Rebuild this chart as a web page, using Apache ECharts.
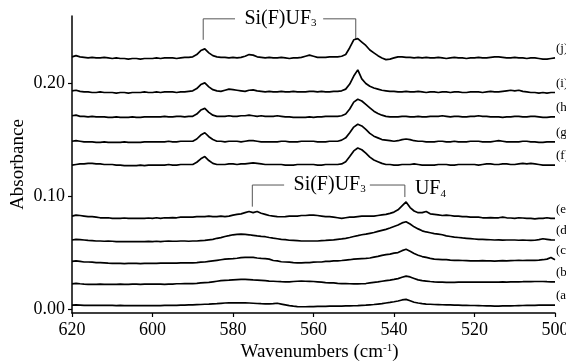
<!DOCTYPE html>
<html>
<head>
<meta charset="utf-8">
<script src="https://cdn.jsdelivr.net/npm/echarts@6/dist/echarts.min.js"></script>
<style>
  html, body { margin: 0; padding: 0; background: #ffffff; }
  #chart { width: 566px; height: 361px; }
</style>
</head>
<body>
<div id="chart"></div>
<script>
// Wavenumber sampling of the spectra (cm-1), 1 cm-1 steps from 620 down to 500
const wavenumbers = [
  620, 619, 618, 617, 616, 615, 614, 613, 612, 611,
  610, 609, 608, 607, 606, 605, 604, 603, 602, 601,
  600, 599, 598, 597, 596, 595, 594, 593, 592, 591,
  590, 589, 588, 587, 586, 585, 584, 583, 582, 581,
  580, 579, 578, 577, 576, 575, 574, 573, 572, 571,
  570, 569, 568, 567, 566, 565, 564, 563, 562, 561,
  560, 559, 558, 557, 556, 555, 554, 553, 552, 551,
  550, 549, 548, 547, 546, 545, 544, 543, 542, 541,
  540, 539, 538, 537, 536, 535, 534, 533, 532, 531,
  530, 529, 528, 527, 526, 525, 524, 523, 522, 521,
  520, 519, 518, 517, 516, 515, 514, 513, 512, 511,
  510, 509, 508, 507, 506, 505, 504, 503, 502, 501,
  500
];

// Stacked absorbance traces, in milli-absorbance units (same order as wavenumbers)
const traceA = [
  4, 4.2, 4, 3.8, 3.7, 3.8, 3.7, 3.7, 3.7, 3.7,
  3.7, 3.5, 3.7, 3.5, 3.5, 3.5, 3.6, 3.5, 3.5, 3.6,
  3.5, 3.6, 3.5, 3.7, 3.8, 3.8, 3.8, 4, 4, 4.1,
  4.2, 4.4, 4.5, 4.7, 4.8, 5, 5.2, 5.5, 5.8, 5.9,
  6, 6, 6, 5.9, 5.8, 5.6, 5.4, 5.2, 5.1, 5,
  5.2, 5.6, 4.9, 4.2, 3.5, 3, 2.7, 2.5, 2.5, 2.6,
  2.7, 2.8, 2.8, 2.9, 3, 3, 3.1, 3.1, 3.2, 3.3,
  3.4, 3.5, 3.7, 3.9, 4.2, 4.5, 4.9, 5.3, 5.8, 6.3,
  6.9, 7.6, 8.5, 9, 7.8, 6.5, 5.8, 5.3, 4.9, 4.7,
  4.5, 4.4, 4.3, 4.2, 4.1, 4, 3.9, 3.8, 3.7, 3.6,
  3.6, 3.5, 3.4, 3.3, 3.2, 3.1, 3.1, 3.2, 3.3, 3.3,
  3.4, 3.5, 3.6, 3.7, 3.8, 3.8, 3.9, 4, 4, 4,
  4
];
const traceB = [
  22.7, 23.2, 22.8, 22.5, 22.3, 22.3, 22.3, 22.5, 22.3, 22.3,
  22.3, 22.3, 22.5, 22.3, 22.3, 22.5, 22.5, 22.3, 22.5, 22.5,
  22.5, 22.5, 22.5, 22.3, 22.5, 22.5, 22.8, 22.8, 23, 23,
  23, 23.2, 23.5, 23.8, 24, 24.5, 25, 25.5, 25.8, 26,
  26.3, 26.5, 26.6, 26.7, 26.5, 26.2, 26, 25.8, 25.5, 25.2,
  25, 24.8, 24.6, 24.5, 24.5, 24.8, 25, 25.2, 25, 24.9,
  24.8, 24.5, 24.2, 23.8, 23.6, 23.5, 23.2, 23, 23, 22.8,
  22.7, 22.7, 22.8, 23, 23.5, 24, 24.4, 25, 25.5, 26,
  26.6, 27.3, 28.5, 29.5, 28.8, 27.5, 26.2, 25.6, 25.2, 24.8,
  24.5, 24.3, 24.2, 24, 24, 24, 24.2, 24.3, 24.3, 24.3,
  24.3, 24.2, 24.3, 24.2, 24.2, 24.2, 24.3, 24.5, 24.3, 24.5,
  24.5, 24.5, 24.6, 24.8, 24.6, 24.8, 24.8, 24.8, 24.6, 24.5,
  24.5
];
const traceC = [
  42.5, 43, 42.5, 42, 42, 41.8, 41.5, 41.5, 41.3, 41,
  40.8, 40.8, 40.8, 40.5, 40.8, 40.8, 40.8, 40.5, 40.8, 40.8,
  40.8, 40.8, 41, 41, 41, 41, 41, 41.3, 41.3, 41.3,
  41.3, 41.5, 41.8, 42, 42.5, 43, 43.5, 44, 44.5, 44.8,
  45, 45.3, 45.8, 46, 46.1, 46, 45.5, 45.2, 45, 44.5,
  43.3, 43, 42.2, 42, 41.8, 41.5, 41.3, 41.3, 41.5, 41.5,
  41.8, 42, 42, 42.5, 42.5, 43, 43, 43.3, 43.7, 44,
  44.5, 44.8, 45, 45.2, 45.5, 46.3, 47, 47.8, 48.5, 49,
  49.8, 50.3, 52, 53.2, 51.5, 49.5, 48, 46.8, 46, 45.2,
  44.5, 44.3, 44, 44, 43.7, 43.5, 43.5, 43.3, 43.2, 43,
  43, 43, 43.2, 43, 43, 42.8, 43, 43.2, 43, 43.2,
  43.3, 43.5, 43.3, 43.5, 43.5, 43.5, 43.7, 44, 44.5, 46,
  44
];
const traceD = [
  61.4, 62, 61.8, 61.4, 61, 60.8, 60.5, 60.5, 60.3, 60.5,
  60.3, 60, 60, 60, 60, 59.9, 60, 60, 60, 60.2,
  60, 60.3, 60, 60.3, 60.5, 60.3, 60.3, 60.5, 60.5, 60.3,
  60.5, 60.5, 60.8, 61, 61.5, 62, 62.9, 63.5, 64.5, 65.2,
  66, 66.3, 66.5, 66.3, 66, 65.5, 65, 64.6, 64.3, 63.6,
  63, 62.5, 62, 61.7, 61.2, 61, 60.8, 60.5, 60.5, 60.5,
  60.5, 60.5, 60.8, 61, 61.3, 61.5, 62, 62.4, 62.9, 63.6,
  64.5, 65.2, 66, 66.6, 67.3, 68, 69, 69.9, 70.8, 72,
  73.3, 74.6, 76.5, 77.5, 75.5, 73, 71.2, 69.5, 68.5, 67.8,
  67, 66.5, 66, 65, 64.5, 64, 63.6, 63.2, 62.9, 62.6,
  62.3, 62, 62, 61.8, 61.6, 61.4, 61.5, 61.3, 61.4, 61.4,
  61.4, 61.2, 61.4, 61.2, 61, 61.2, 61.8, 62.5, 62, 61.5,
  61.4
];
const traceE = [
  82.5, 83.4, 83, 82.5, 82, 82, 81.5, 81, 81, 81,
  80.5, 80.5, 80.5, 80.8, 80.5, 80.5, 80.5, 80.5, 80.5, 80.8,
  80.5, 81, 80.5, 81, 81, 81.2, 81, 81.5, 81.5, 81.5,
  81.5, 82, 82, 82, 82.5, 82, 82, 82.5, 82, 82.5,
  83.4, 84, 84.5, 85.5, 86.5, 85.5, 86.5, 85, 84, 83,
  82.5, 82, 81.9, 82, 82.5, 82.5, 82.5, 83, 83, 83.4,
  83.4, 83, 82.5, 82, 82, 81.5, 81, 80.5, 81, 81.5,
  81.5, 82, 82.5, 82.5, 82.5, 82.5, 83, 83.5, 84, 84.9,
  86, 88, 91.5, 95, 90, 87, 85.5, 85.5, 86.5, 84.5,
  84, 83.5, 83, 83.4, 83, 82.5, 82.5, 82, 82, 81.5,
  81.5, 81.5, 81, 81, 81.2, 81, 81, 81.5, 81, 80.8,
  80.5, 81, 80.8, 80.5, 80.5, 80, 80.5, 80.5, 81, 80.5,
  80.5
];
const traceF = [
  127.5, 128, 128.5, 128.5, 129, 129, 128.5, 128.5, 128, 128,
  128, 127.5, 127.5, 127, 127, 127, 127, 127.5, 127, 127.5,
  127.5, 127.5, 127.5, 127.5, 128, 127.5, 127.5, 128, 128, 128,
  128, 130, 133, 135, 131.5, 129, 128, 128, 128, 128.5,
  128.5, 128, 128.5, 128.5, 129, 129.5, 129, 128.5, 128, 128,
  128, 128, 128, 127.5, 127.5, 127.5, 128, 128, 128, 128,
  128, 127.5, 127.5, 128, 128, 128, 128, 128.5, 130.5, 135,
  140, 142.5, 141, 138, 134.5, 132, 130.5, 129, 128, 128,
  127.5, 127.5, 128, 128, 128, 128.5, 128, 127.5, 127.5, 127.5,
  127.5, 128, 128, 128, 127.5, 127.5, 128, 128, 128, 128,
  128, 127.5, 128, 128.5, 128.5, 128, 128, 128.5, 128.5, 128,
  128, 128.5, 129, 128.5, 129, 128.5, 128, 127.5, 127.5, 127.5,
  127.5
];
const traceG = [
  148.5, 149, 148.5, 148, 148, 148, 147.5, 147.5, 148, 147.5,
  147.5, 147.5, 147.5, 148, 147.5, 147.5, 147.5, 147.5, 148, 148,
  148, 148, 148, 148, 148.5, 148, 148, 148.5, 148.5, 148.5,
  148.5, 150.5, 154, 156, 152.5, 150, 148.5, 148.5, 148, 148.5,
  148.5, 148.5, 148, 148.5, 149, 149, 148.5, 148, 148, 148,
  148, 148, 148.5, 148.5, 148, 148, 148, 148.5, 148.5, 148.5,
  148.5, 148, 148, 148, 148.5, 148.5, 148.5, 149.5, 151.5, 156,
  161, 163.5, 162, 159, 155.5, 153, 151.5, 150, 149.5, 149,
  148.5, 149, 150, 150.5, 150, 149, 148.5, 148.5, 148, 148,
  148, 148.5, 148.5, 148, 148, 148.5, 148, 148, 148, 148.5,
  148.5, 148.5, 148, 148, 148, 148.5, 149, 148.5, 148, 148,
  148, 148, 148.5, 148.5, 148, 148, 147.5, 147.5, 148, 148,
  148
];
const traceH = [
  171, 171.5, 170.5, 170.5, 170, 170.5, 170, 170, 170, 169.5,
  169.5, 170, 169.5, 169.5, 169.5, 170, 169.5, 169.5, 170, 170,
  170, 170, 170, 170.5, 170, 170, 170.5, 170.5, 170, 170.5,
  170.5, 172.5, 176, 177.5, 174, 171.5, 170.5, 170.5, 170.5, 171,
  170.5, 170.5, 171, 171, 171.5, 171, 170.5, 171, 170.5, 170.5,
  170.5, 171, 170.5, 170, 170, 169.5, 169.5, 169.5, 169.5, 170,
  169.5, 170, 170, 170.5, 170.5, 170.5, 170.5, 171, 172.5, 177,
  183, 185.5, 184, 181, 178, 175, 173, 171.5, 170.5, 170,
  170, 170, 170.5, 170.5, 170, 170, 170.5, 170, 170, 170.5,
  170.5, 170.5, 171, 170.5, 170, 170.5, 170.5, 170, 170, 170.5,
  170.5, 171, 170.5, 170.5, 170, 170, 170, 169.5, 170, 170,
  170.5, 170.5, 170, 170, 170.5, 170.5, 170, 169.5, 169.5, 170,
  170
];
const traceI = [
  193, 193.5, 192.5, 192, 192, 191.5, 191.5, 192, 191.5, 191.5,
  191.5, 191, 191.5, 191.5, 191, 191.5, 191.5, 191.5, 192, 191.5,
  191.5, 192, 191.5, 192, 192, 192, 191.5, 192, 192, 192.5,
  193, 195, 198.5, 200, 196.5, 194, 193, 192.5, 193.5, 194.5,
  194, 193.5, 193, 192.5, 193.5, 193.8, 193, 192.5, 192, 192.5,
  192, 192, 192.5, 192, 192, 192.5, 192, 192, 192, 192.5,
  192.5, 192, 192.5, 192, 192, 192.5, 192.5, 193, 194.5, 199,
  206, 211.5, 203.5, 199.5, 197, 195.5, 194.5, 193.5, 193, 192.5,
  192.5, 192, 192, 192.5, 192, 192, 192.5, 192, 191.5, 192,
  192, 191.5, 192, 192, 191.5, 192, 192, 191.5, 191.5, 192,
  192, 192, 191.5, 192, 192.5, 192, 192, 192.5, 193, 193.5,
  193, 193.5, 192.5, 192, 191.5, 191.5, 191, 191.5, 191, 191.5,
  191.5
];
const traceJ = [
  223, 224, 223, 222.5, 222, 222.5, 222, 222, 222.5, 222,
  221.5, 222, 221.5, 221.5, 221, 221.5, 221.5, 221, 221.5, 221.5,
  221.5, 222, 221.5, 222, 222, 222, 221.5, 222, 222.5, 222.5,
  223, 225, 228.5, 230, 226.5, 224, 223, 222.5, 222.5, 222,
  222.5, 222, 222.5, 223.5, 225, 224.5, 223, 222.5, 222, 222.5,
  222, 222, 222.5, 222, 221.5, 222, 222, 222.5, 223.5, 224.5,
  223.5, 222.5, 222.5, 222.5, 223, 223, 223, 223.5, 225, 231,
  238, 239, 236, 233, 229, 226.5, 224, 222, 220.5, 221,
  222, 223, 223, 222.5, 222.5, 222, 222.5, 222, 222.5, 222,
  222, 222.5, 222, 221.5, 222, 222.5, 222, 222, 221.5, 222,
  222, 222.5, 222, 222, 222.5, 223, 223, 222.5, 222, 222,
  222.5, 222, 222, 221.5, 222, 222, 221.5, 221, 221, 221.5,
  222
];

const traces = [traceA, traceB, traceC, traceD, traceE, traceF, traceG, traceH, traceI, traceJ];
const traceLabels = ['(a)', '(b)', '(c)', '(d)', '(e)', '(f)', '(g)', '(h)', '(i)', '(j)'];

// Axis ticks
const xTickValues = [620, 600, 580, 560, 540, 520, 500];
const yTickValues = [0, 0.1, 0.2];

const SERIF = '"Liberation Serif", "Times New Roman", Times, serif';

const series = traces.map((vals, s) => ({
  type: 'line',
  name: traceLabels[s],
  data: wavenumbers.map((wn, k) => [wn, vals[k] / 1000]),
  symbol: 'none',
  smooth: false,
  silent: true,
  clip: false,
  lineStyle: { color: '#000', width: 1.7 }
}));

const option = {
  animation: false,
  backgroundColor: '#ffffff',
  grid: { left: 72, right: 11, top: 16, bottom: 48, containLabel: false, outerBoundsMode: 'none' },
  xAxis: {
    type: 'value',
    min: 500,
    max: 620,
    interval: 20,
    inverse: true,
    name: '{m|Wavenumbers (cm}{p|-1}{m|)}',
    nameLocation: 'middle',
    nameGap: 30,
    nameMoveOverlap: false,
    nameTextStyle: {
      padding: [0, 0, 0, 12],
      rich: {
        m: { fontFamily: SERIF, fontSize: 19, color: '#000' },
        p: { fontFamily: SERIF, fontSize: 11, color: '#000', verticalAlign: 'top' }
      }
    },
    axisLine: { show: true, onZero: false, lineStyle: { color: '#000', width: 1.5 } },
    axisTick: { show: true, length: 4, inside: false, lineStyle: { color: '#000', width: 1.2 } },
    axisLabel: {
      color: '#000', fontFamily: SERIF, fontSize: 18, margin: 8,
      customValues: xTickValues
    },
    splitLine: { show: false }
  },
  yAxis: {
    type: 'value',
    min: -0.003,
    max: 0.259,
    name: 'Absorbance',
    nameLocation: 'middle',
    nameGap: 44,
    nameRotate: 90,
    nameMoveOverlap: false,
    nameTextStyle: { fontFamily: SERIF, fontSize: 19, color: '#000' },
    axisLine: { show: true, onZero: false, lineStyle: { color: '#000', width: 1.5 } },
    axisTick: { show: true, length: 4, inside: false, customValues: yTickValues,
      lineStyle: { color: '#000', width: 1.2 } },
    axisLabel: {
      color: '#000', fontFamily: SERIF, fontSize: 18, margin: 7,
      customValues: yTickValues,
      formatter: v => v.toFixed(2)
    },
    splitLine: { show: false }
  },
  series: series
};

const chart = echarts.init(document.getElementById('chart'), null, { renderer: 'canvas' });
chart.setOption(option);

// Annotations, placed in data coordinates (wavenumber, absorbance)
const px = (wn, a) => chart.convertToPixel({ gridIndex: 0 }, [wn, a]);
const bracketColor = '#555';

function bracket(leftWn, rightWn, topA, leftFootA, rightFootA, gapLeftWn, gapRightWn) {
  return [
    {
      type: 'polyline', silent: true,
      shape: { points: [px(leftWn, leftFootA), px(leftWn, topA), px(gapLeftWn, topA)] },
      style: { stroke: bracketColor, lineWidth: 1, fill: null }
    },
    {
      type: 'polyline', silent: true,
      shape: { points: [px(gapRightWn, topA), px(rightWn, topA), px(rightWn, rightFootA)] },
      style: { stroke: bracketColor, lineWidth: 1, fill: null }
    }
  ];
}

function formulaText(text, sub, wn, a, align) {
  const p = px(wn, a);
  return {
    type: 'text', silent: true, x: p[0], y: p[1],
    style: {
      text: '{m|' + text + '}{s|' + sub + '}',
      align: align, verticalAlign: 'middle',
      rich: {
        m: { fontFamily: SERIF, fontSize: 20, fill: '#000' },
        s: { fontFamily: SERIF, fontSize: 11, fill: '#000', verticalAlign: 'bottom' }
      }
    }
  };
}

// Trace letters just above the right-hand end of each spectrum
const lastIndex = wavenumbers.length - 1;
const traceTags = traces.map((vals, s) => {
  const p = px(wavenumbers[lastIndex], vals[lastIndex] / 1000);
  return {
    type: 'text', silent: true, x: p[0] + 1, y: p[1] - 9,
    style: {
      text: traceLabels[s], fill: '#000',
      fontFamily: SERIF, fontSize: 13,
      align: 'left', verticalAlign: 'middle'
    }
  };
});

const graphics = [].concat(
  bracket(587.4, 549.5, 0.2565, 0.238, 0.238, 579.5, 557.6),
  [formulaText('Si(F)UF', '3', 568.2, 0.2565, 'center')],
  bracket(575.2, 537.3, 0.1099, 0.0908, 0.0993, 567.3, 546.0),
  [formulaText('Si(F)UF', '3', 556.0, 0.1099, 'center')],
  [formulaText('UF', '4', 534.8, 0.1062, 'left')],
  traceTags
);

chart.setOption({ graphic: graphics });
</script>
</body>
</html>
